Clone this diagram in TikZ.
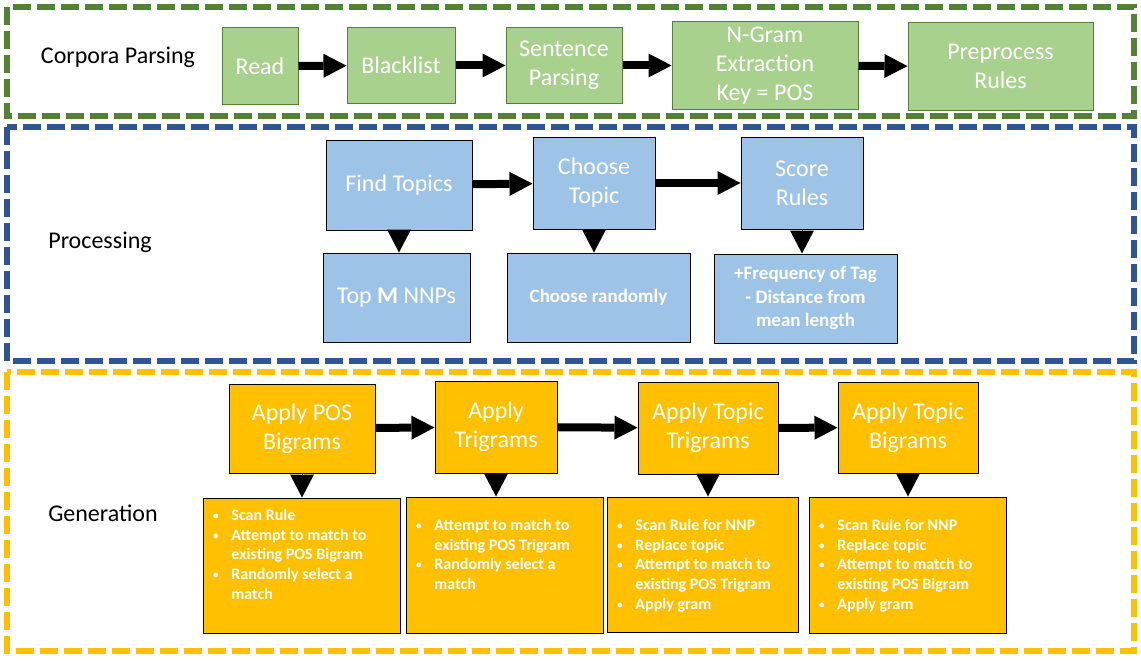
\documentclass[tikz,border=0pt]{standalone}
\usepackage{fontspec}
\setmainfont{Carlito}
\usetikzlibrary{arrows.meta}

\definecolor{frmgreen}{HTML}{548235}
\definecolor{boxgreen}{HTML}{A9D18E}
\definecolor{frmblue}{HTML}{2F5597}
\definecolor{boxblue}{HTML}{9DC3E6}
\definecolor{boxgold}{HTML}{FFC000}

\newcommand{\steplist}[4]{%
  \parbox[c][#1][t]{#2}{\vspace*{#3}%
    \begin{tabular}{@{\hspace{10pt}}l@{\hspace{13pt}}l@{}}#4\end{tabular}}}
\newcommand{\bul}{\raisebox{1pt}{\fontsize{11}{11}\selectfont\textbullet}}

\tikzset{
  stageframe/.style={line width=5.5pt, dash pattern=on 18pt off 6pt},
  stagename/.style={font=\fontsize{24}{29}\selectfont},
  cell/.style={rectangle, draw, line width=1pt, text=white, inner sep=0pt},
  pbox/.style={cell, align=center, font=\fontsize{24}{29}\selectfont},
  parsebox/.style={pbox, fill=boxgreen, draw=frmgreen},
  procbox/.style={pbox, fill=boxblue, draw=black},
  genbox/.style={pbox, fill=boxgold, draw=black},
  listbox/.style={cell, fill=boxgold, draw=black, font=\fontsize{16}{19.6}\selectfont\bfseries},
  blk/.style={line width=8pt, -{Triangle[length=23pt,width=24pt,line width=0pt]}},
  dtip/.style={line width=0.5pt, -{Triangle[length=23pt,width=24pt,line width=0pt]}}
}

\begin{document}
\begin{tikzpicture}[x=1pt,y=-1pt]
            \useasboundingbox (0,0) rectangle (1141,661);

            % stages
            \draw[stageframe, frmgreen] (7,7) rectangle (1134,116);
            \draw[stageframe, frmblue] (7,127) rectangle (1134,361);
            \draw[stageframe, boxgold] (7,372) rectangle (1134,651);

            \node[stagename] (lparse) at (118,57) {Corpora Parsing};
            \node[stagename] (lproc) at (100,242) {Processing};
            \node[stagename] (lgen) at (103,513) {Generation};

            % corpora parsing
            \node[parsebox, minimum width=76pt, minimum height=76pt] (read) at (260,66) {Read};
            \node[parsebox, minimum width=108pt, minimum height=75pt] (black) at (401,65.5) {Blacklist};
            \node[parsebox, minimum width=116pt, minimum height=75pt] (sent) at (564,65.5) {Sentence\\Parsing};
            \node[parsebox, minimum width=186pt, minimum height=87pt] (ngram) at (765,65.5) {N-Gram\\Extraction\\Key = POS};
            \node[parsebox, minimum width=185pt, minimum height=87pt] (prep) at (1000.5,66.5) {Preprocess\\Rules};

            % processing
            \node[procbox, minimum width=146pt, minimum height=90pt] (ft) at (399,185) {Find Topics};
            \node[procbox, minimum width=122pt, minimum height=92pt] (ct) at (594,183) {Choose\\Topic};
            \node[procbox, minimum width=122pt, minimum height=92pt] (sr) at (802,183) {Score\\Rules};
            \node[procbox, minimum width=147pt, minimum height=89pt] (tm) at (396.5,297.5) {Top \textbf{M} NNPs};
            \node[procbox, minimum width=183pt, minimum height=89pt, font=\fontsize{19}{23.5}\selectfont\bfseries] (cr) at (598.5,297.5) {Choose randomly};
            \node[procbox, minimum width=183pt, minimum height=89pt, font=\fontsize{19}{23.5}\selectfont\bfseries] (fq) at (805.5,298.5) {+Frequency of Tag\\- Distance from\\mean length};

            % generation
            \node[genbox, minimum width=146pt, minimum height=89pt] (apb) at (302,428.5) {Apply POS\\Bigrams};
            \node[genbox, minimum width=122pt, minimum height=92pt] (atr) at (496,427) {Apply\\Trigrams};
            \node[genbox, minimum width=140pt, minimum height=92pt] (att) at (708,428) {Apply Topic\\Trigrams};
            \node[genbox, minimum width=140pt, minimum height=91pt] (atb) at (908,427.5) {Apply Topic\\Bigrams};

            \node[listbox] (b1) at (301.5,565.5) {\steplist{135pt}{197pt}{9pt}{%
                \bul & Scan Rule\\
                \bul & Attempt to match to\\
                & existing POS Bigram\\
                \bul & Randomly select a\\
                & match}};
            \node[listbox] (b2) at (504.5,565) {\steplist{136pt}{197pt}{20pt}{%
                \bul & Attempt to match to\\
                & existing POS Trigram\\
                \bul & Randomly select a\\
                & match}};
            \node[listbox] (b3) at (702.5,564.5) {\steplist{135pt}{191pt}{20pt}{%
                \bul & Scan Rule for NNP\\
                \bul & Replace topic\\
                \bul & Attempt to match to\\
                & existing POS Trigram\\
                \bul & Apply gram}};
            \node[listbox] (b4) at (907.5,565) {\steplist{136pt}{197pt}{20pt}{%
                \bul & Scan Rule for NNP\\
                \bul & Replace topic\\
                \bul & Attempt to match to\\
                & existing POS Bigram\\
                \bul & Apply gram}};

            % connectors
            \foreach \a/\b in {read/black, black/sent, sent/ngram, ngram/prep, ft/ct, ct/sr, apb/atr, atr/att, att/atb}{
                \draw[blk] (\a) -- (\b);
            }
            \foreach \a/\b in {ft/tm, ct/cr, sr/fq, apb/b1, atr/b2, att/b3, atb/b4}{
                \draw[dtip] (\a.south) -- (\a.south |- \b.north);
            }
        \end{tikzpicture}
\end{document}
